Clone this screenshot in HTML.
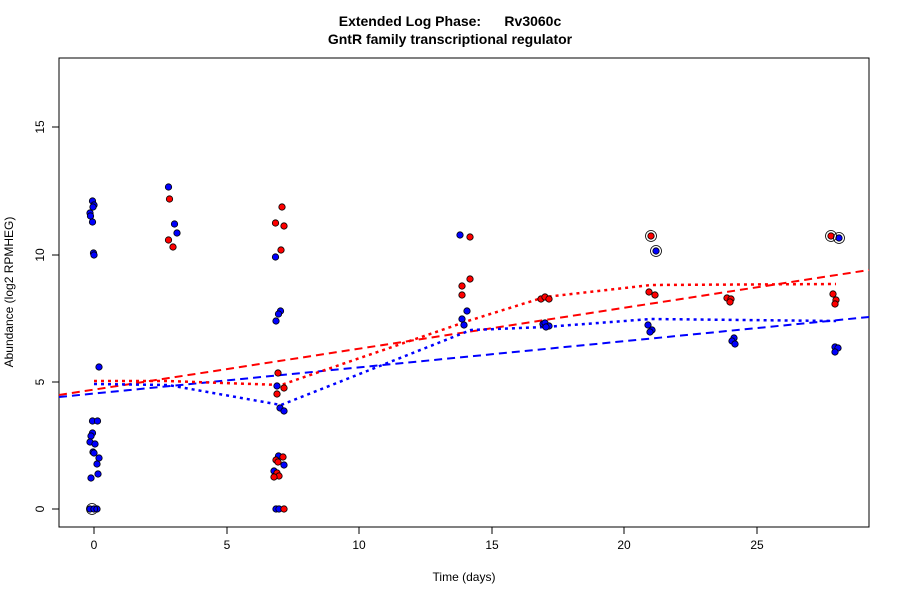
<!DOCTYPE html>
<html><head><style>body{margin:0;background:#fff}svg{display:block}text{font-family:"Liberation Sans",sans-serif}</style></head><body>
<svg width="900" height="600" viewBox="0 0 900 600">
<rect width="900" height="600" fill="#fff"/>
<text x="450" y="26" text-anchor="middle" font-size="14" font-weight="bold" xml:space="preserve">Extended Log Phase:      Rv3060c</text>
<text x="450" y="44" text-anchor="middle" font-size="14" font-weight="bold">GntR family transcriptional regulator</text>
<rect x="59" y="58" width="810" height="469" fill="none" stroke="#000"/>
<g stroke="#000" fill="none">
<line x1="94" y1="527" x2="757" y2="527"/>
<line x1="94" y1="527" x2="94" y2="534"/><line x1="227" y1="527" x2="227" y2="534"/><line x1="359" y1="527" x2="359" y2="534"/><line x1="492" y1="527" x2="492" y2="534"/><line x1="624" y1="527" x2="624" y2="534"/><line x1="757" y1="527" x2="757" y2="534"/>
<line x1="59" y1="509" x2="59" y2="127"/>
<line x1="52" y1="509" x2="59" y2="509"/><line x1="52" y1="382" x2="59" y2="382"/><line x1="52" y1="255" x2="59" y2="255"/><line x1="52" y1="127" x2="59" y2="127"/>
</g>
<g font-size="12" text-anchor="middle">
<text x="94" y="549">0</text><text x="227" y="549">5</text><text x="359" y="549">10</text><text x="492" y="549">15</text><text x="624" y="549">20</text><text x="757" y="549">25</text>
<text transform="translate(44,509) rotate(-90)">0</text><text transform="translate(44,382) rotate(-90)">5</text><text transform="translate(44,255) rotate(-90)">10</text><text transform="translate(44,127) rotate(-90)">15</text>
<text x="464" y="581">Time  (days)</text>
<text transform="translate(13,292) rotate(-90)">Abundance  (log2 RPMHEG)</text>
</g>
<g stroke-width="2" fill="none">
<line x1="59" y1="395" x2="869" y2="270" stroke="#f00" stroke-dasharray="8,5"/>
<line x1="59" y1="397" x2="869" y2="317" stroke="#00f" stroke-dasharray="8,5"/>
<polyline points="94,381 168,381 281,385 471,320 545,297 651,285 836,284" stroke="#f00" stroke-width="2.5" stroke-dasharray="3,4"/>
<polyline points="94,384 168,385 281,405 471,330 545,327 651,319 836,321" stroke="#00f" stroke-width="2.5" stroke-dasharray="3,4"/>
</g>
<g stroke="#000" stroke-width="0.8" fill="#00f">
<circle cx="92.5" cy="201" r="3.2"/><circle cx="94" cy="205" r="3.2"/><circle cx="93" cy="207" r="3.2"/><circle cx="90" cy="213" r="3.2"/><circle cx="90.5" cy="216" r="3.2"/><circle cx="92.5" cy="222" r="3.2"/><circle cx="93.5" cy="253" r="3.2"/><circle cx="94" cy="255" r="3.2"/><circle cx="99" cy="367" r="3.2"/><circle cx="92.5" cy="421" r="3.2"/><circle cx="97.5" cy="421" r="3.2"/><circle cx="92.5" cy="433" r="3.2"/><circle cx="91" cy="436" r="3.2"/><circle cx="90" cy="442" r="3.2"/><circle cx="95" cy="444" r="3.2"/><circle cx="93" cy="452" r="3.2"/><circle cx="94" cy="453" r="3.2"/><circle cx="99" cy="458" r="3.2"/><circle cx="97" cy="464" r="3.2"/><circle cx="98" cy="474" r="3.2"/><circle cx="91" cy="478" r="3.2"/>
<circle cx="90" cy="509" r="3.2"/><circle cx="94" cy="509" r="3.2"/><circle cx="97" cy="509" r="3.2"/>
<circle cx="168.5" cy="187" r="3.2"/><circle cx="174.5" cy="224" r="3.2"/><circle cx="177" cy="233" r="3.2"/>
<circle cx="275.5" cy="257" r="3.2"/><circle cx="280.5" cy="311" r="3.2"/><circle cx="278.5" cy="314" r="3.2"/><circle cx="276" cy="321" r="3.2"/><circle cx="277" cy="386" r="3.2"/><circle cx="280" cy="408" r="3.2"/><circle cx="284" cy="411" r="3.2"/>
<circle cx="278.5" cy="456" r="3.2"/><circle cx="284" cy="465" r="3.2"/><circle cx="274" cy="471" r="3.2"/><circle cx="275" cy="476" r="3.2"/>
<circle cx="276" cy="509" r="3.2"/><circle cx="279" cy="509" r="3.2"/>
<circle cx="460" cy="235" r="3.2"/><circle cx="467" cy="311" r="3.2"/><circle cx="462" cy="319" r="3.2"/><circle cx="464" cy="325" r="3.2"/>
<circle cx="543" cy="324" r="3.2"/><circle cx="545" cy="323" r="3.2"/><circle cx="549" cy="326" r="3.2"/><circle cx="546" cy="327" r="3.2"/>
<circle cx="656" cy="251" r="3.2"/><circle cx="648" cy="325" r="3.2"/><circle cx="652" cy="330" r="3.2"/><circle cx="650" cy="332" r="3.2"/>
<circle cx="734" cy="338" r="3.2"/><circle cx="732" cy="341" r="3.2"/><circle cx="735" cy="344" r="3.2"/>
<circle cx="839" cy="238" r="3.2"/><circle cx="835" cy="347" r="3.2"/><circle cx="838" cy="348" r="3.2"/><circle cx="835" cy="352" r="3.2"/>
</g>
<g stroke="#000" stroke-width="0.8" fill="#f00">
<circle cx="169.5" cy="199" r="3.2"/><circle cx="168.5" cy="240" r="3.2"/><circle cx="173" cy="247" r="3.2"/>
<circle cx="282" cy="207" r="3.2"/><circle cx="275.5" cy="223" r="3.2"/><circle cx="284" cy="226" r="3.2"/><circle cx="281" cy="250" r="3.2"/><circle cx="278" cy="373" r="3.2"/><circle cx="284" cy="388" r="3.2"/><circle cx="277" cy="394" r="3.2"/>
<circle cx="283" cy="457" r="3.2"/><circle cx="276" cy="460" r="3.2"/><circle cx="278" cy="462" r="3.2"/><circle cx="277" cy="473" r="3.2"/><circle cx="279" cy="476" r="3.2"/><circle cx="274" cy="477" r="3.2"/>
<circle cx="284" cy="509" r="3.2"/>
<circle cx="470" cy="237" r="3.2"/><circle cx="470" cy="279" r="3.2"/><circle cx="462" cy="286" r="3.2"/><circle cx="462" cy="295" r="3.2"/>
<circle cx="541" cy="299" r="3.2"/><circle cx="545" cy="297" r="3.2"/><circle cx="549" cy="299" r="3.2"/>
<circle cx="651" cy="236" r="3.2"/><circle cx="649" cy="292" r="3.2"/><circle cx="655" cy="295" r="3.2"/>
<circle cx="727" cy="298" r="3.2"/><circle cx="731" cy="299" r="3.2"/><circle cx="730" cy="302" r="3.2"/>
<circle cx="831" cy="236" r="3.2"/><circle cx="833" cy="294" r="3.2"/><circle cx="836" cy="300" r="3.2"/><circle cx="835" cy="304" r="3.2"/>
</g>
<g stroke="#000" stroke-width="0.8" fill="none">
<circle cx="92" cy="509" r="5.5"/><circle cx="651" cy="236" r="5.5"/><circle cx="656" cy="251" r="5.5"/><circle cx="831" cy="236" r="5.5"/><circle cx="839" cy="238" r="5.5"/>
</g>
</svg>
</body></html>
